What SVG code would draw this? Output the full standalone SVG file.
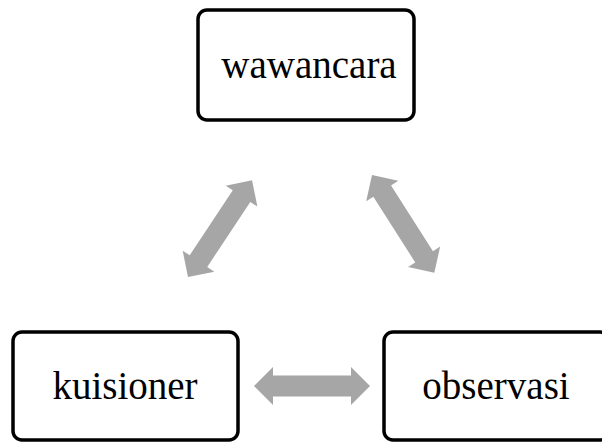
<svg xmlns="http://www.w3.org/2000/svg" width="602" height="443" viewBox="0 0 602 443">
<style>
.box{fill:#fff;stroke:#000;stroke-width:3.5}
.lbl{font-family:"Liberation Serif","DejaVu Serif",serif;font-size:39px;fill:#000;text-anchor:middle}
.arr{fill:#a6a6a6}
</style>
<defs>
<polygon id="dbl" class="arr" points="0,0 19,-19 19,-10.5 97,-10.5 97,-19 116,0 97,19 97,10.5 19,10.5 19,19"/>
</defs>
<g id="connectors">
<use href="#dbl" transform="translate(254,386)"/>
<use href="#dbl" transform="translate(188,277) rotate(-56.5) scale(1.0)"/>
<use href="#dbl" transform="translate(372,175) rotate(57.5) scale(1.0)"/>
</g>
<g id="wawancara">
<rect class="box" x="198" y="10" width="216" height="110" rx="9"/>
<text class="lbl" x="309" y="78">wawancara</text>
</g>
<g id="kuisioner">
<rect class="box" x="13" y="332" width="225" height="108" rx="9"/>
<text class="lbl" x="125" y="399">kuisioner</text>
</g>
<g id="observasi">
<rect class="box" x="384" y="332" width="225" height="108" rx="9"/>
<text class="lbl" x="496" y="399">observasi</text>
</g>
</svg>
